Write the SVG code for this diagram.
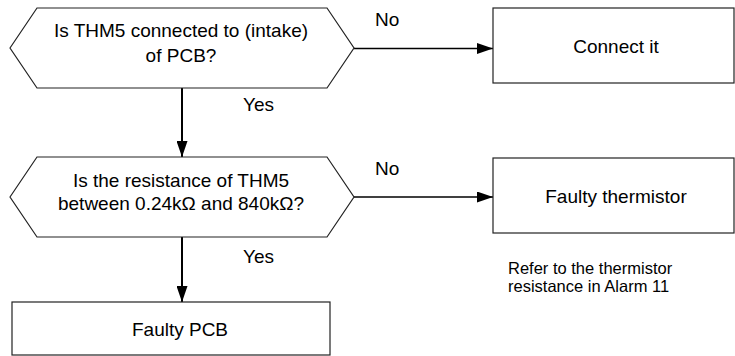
<svg xmlns="http://www.w3.org/2000/svg" width="735" height="356" viewBox="0 0 735 356">
<style>
.shape{fill:#fff;stroke:#222;stroke-width:1.2}
.t{font-family:"Liberation Sans",Arial,sans-serif;font-size:19px;fill:#000}
.m{text-anchor:middle}
.s{font-size:16.5px}
.c{fill:none;stroke:#000}
</style>
<defs>
<marker id="ah" markerUnits="userSpaceOnUse" markerWidth="16" markerHeight="11" refX="16" refY="5.5" orient="auto">
<path d="M0,0 L16,5.5 L0,11 Z" fill="#000"/>
</marker>
</defs>
<rect width="735" height="356" fill="#fff"/>
<g id="connectors">
<line class="c" x1="354" y1="48.5" x2="493" y2="48.5" stroke-width="1.5" marker-end="url(#ah)"/>
<line class="c" x1="182" y1="88" x2="182" y2="157" stroke-width="2" marker-end="url(#ah)"/>
<line class="c" x1="354" y1="197" x2="493" y2="197" stroke-width="1.5" marker-end="url(#ah)"/>
<line class="c" x1="182" y1="237" x2="182" y2="302" stroke-width="2" marker-end="url(#ah)"/>
<text class="t" x="375" y="26">No</text>
<text class="t" x="243" y="111">Yes</text>
<text class="t" x="375" y="175">No</text>
<text class="t" x="243" y="263">Yes</text>
</g>
<g id="q1">
<polygon class="shape" points="10,48 37,8 327,8 354,48 327,88 37,88"/>
<text class="t m" x="181" y="37">Is THM5 connected to (intake)</text>
<text class="t m" x="181" y="62">of PCB?</text>
</g>
<g id="connect">
<rect class="shape" x="493" y="8" width="241" height="75"/>
<text class="t m" x="616" y="53">Connect it</text>
</g>
<g id="q2">
<polygon class="shape" points="10,197 37,157 327,157 354,197 327,237 37,237"/>
<text class="t m" x="181" y="187">Is the resistance of THM5</text>
<text class="t m" x="181" y="210">between 0.24kΩ and 840kΩ?</text>
</g>
<g id="thermistor">
<rect class="shape" x="493" y="158" width="241" height="75"/>
<text class="t m" x="616" y="203">Faulty thermistor</text>
</g>
<g id="note">
<text class="t s" x="508" y="274">Refer to the thermistor</text>
<text class="t s" x="508" y="292">resistance in Alarm 11</text>
</g>
<g id="pcb">
<rect class="shape" x="12" y="302" width="318" height="53"/>
<text class="t m" x="180" y="336">Faulty PCB</text>
</g>
</svg>
